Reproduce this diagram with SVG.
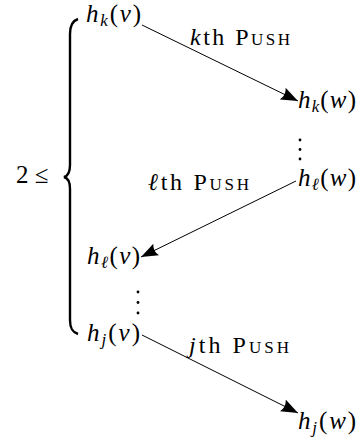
<svg xmlns="http://www.w3.org/2000/svg" width="364" height="445" viewBox="0 0 364 445">
<defs>
<marker id="arr" markerUnits="userSpaceOnUse" markerWidth="18" markerHeight="14" refX="17" refY="7" orient="auto">
<path d="M0,0.5 L17,7 L0,13.5 Q4,7 0,0.5 z" fill="#000"/>
</marker>
</defs>
<rect width="364" height="445" fill="#fff"/>
<g id="brace">
<text x="16" y="183" font-family="Times New Roman, Liberation Serif, serif" font-size="25">2 &#8804;</text>
<path d="M78,19 C72,21 70,26 70,34 L70,165 C70,172 68,176 64,177 C68,178 70,182 70,189 L70,320 C70,328 72,332 78,334" fill="none" stroke="#000" stroke-width="2.4"/>
</g>
<g id="connectors" stroke="#000" stroke-width="1" fill="none">
<line x1="142" y1="25" x2="298" y2="101" marker-end="url(#arr)"/>
<line x1="296" y1="181" x2="141" y2="257" marker-end="url(#arr)"/>
<line x1="142" y1="335" x2="298" y2="413" marker-end="url(#arr)"/>
</g>
<g id="labels" font-family="Times New Roman, Liberation Serif, serif" font-size="24">
<text x="190" y="45" textLength="100" lengthAdjust="spacing"><tspan font-style="italic">k</tspan>th <tspan font-variant="small-caps">Push</tspan></text>
<text x="148" y="190" textLength="101" lengthAdjust="spacing"><tspan font-style="italic">&#8467;</tspan>th <tspan font-variant="small-caps">Push</tspan></text>
<text x="189" y="353" textLength="100" lengthAdjust="spacing"><tspan font-style="italic">j</tspan>th <tspan font-variant="small-caps">Push</tspan></text>
</g>
<g font-family="Times New Roman, Liberation Serif, serif" font-size="25">
<g id="hkv"><text x="86" y="22" textLength="55" lengthAdjust="spacing"><tspan font-style="italic">h</tspan><tspan font-style="italic" font-size="17" dy="4">k</tspan><tspan dy="-4">(</tspan><tspan font-style="italic">v</tspan>)</text></g>
<g id="hkw"><text x="298" y="108" textLength="58" lengthAdjust="spacing"><tspan font-style="italic">h</tspan><tspan font-style="italic" font-size="17" dy="4">k</tspan><tspan dy="-4">(</tspan><tspan font-style="italic">w</tspan>)</text></g>
<g id="hlw"><text x="298" y="186" textLength="58" lengthAdjust="spacing"><tspan font-style="italic">h</tspan><tspan font-style="italic" font-size="17" dy="4">&#8467;</tspan><tspan dy="-4">(</tspan><tspan font-style="italic">w</tspan>)</text></g>
<g id="hlv"><text x="87" y="264" textLength="53" lengthAdjust="spacing"><tspan font-style="italic">h</tspan><tspan font-style="italic" font-size="17" dy="4">&#8467;</tspan><tspan dy="-4">(</tspan><tspan font-style="italic">v</tspan>)</text></g>
<g id="hjv"><text x="87" y="341" textLength="53" lengthAdjust="spacing"><tspan font-style="italic">h</tspan><tspan font-style="italic" font-size="17" dy="4">j</tspan><tspan dy="-4">(</tspan><tspan font-style="italic">v</tspan>)</text></g>
<g id="hjw"><text x="298" y="429" textLength="58" lengthAdjust="spacing"><tspan font-style="italic">h</tspan><tspan font-style="italic" font-size="17" dy="4">j</tspan><tspan dy="-4">(</tspan><tspan font-style="italic">w</tspan>)</text></g>
</g>
<g id="dots1" fill="#000"><circle cx="300" cy="140" r="1.4"/><circle cx="300" cy="149.5" r="1.4"/><circle cx="300" cy="159" r="1.4"/></g>
<g id="dots2" fill="#000"><circle cx="138" cy="292" r="1.4"/><circle cx="138" cy="302.5" r="1.4"/><circle cx="138" cy="313" r="1.4"/></g>
</svg>
